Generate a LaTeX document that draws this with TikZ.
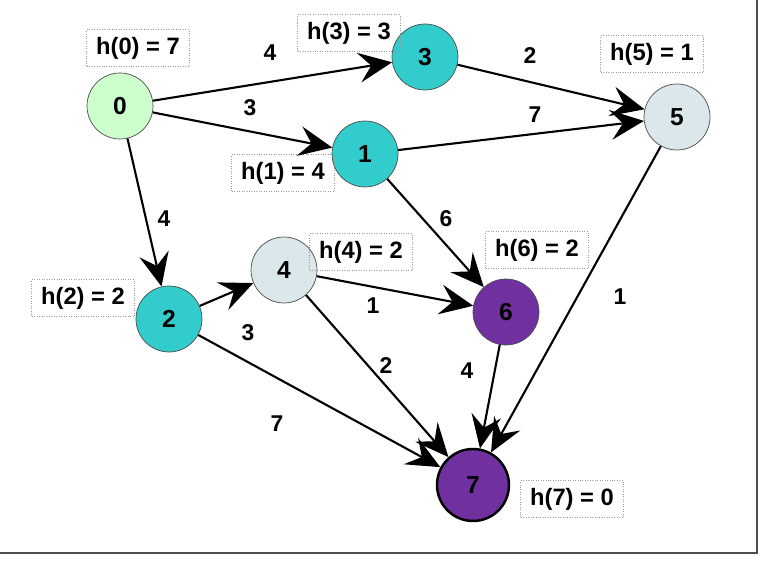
\documentclass[tikz,border=0pt]{standalone}
\usepackage{fontspec}
\setmainfont{Liberation Sans}
\usetikzlibrary{arrows.meta, positioning}
\definecolor{teal1}{RGB}{51,204,204}
\definecolor{mint}{RGB}{204,255,204}
\definecolor{pale}{RGB}{218,232,236}
\definecolor{plum}{RGB}{112,48,160}
\tikzstyle{arrow} = [line width=1.2pt,-{Stealth[length=19pt,width=17pt,inset=7pt]}]
\tikzstyle{state} = [circle, draw=black!70, minimum size=1.32cm, inner sep=0pt, font=\bfseries\fontsize{14}{16}\selectfont]
\tikzstyle{heur} = [rectangle, draw=black!40, densely dotted, minimum width=2.05cm, minimum height=0.74cm, font=\bfseries\fontsize{13.5}{15}\selectfont]
\tikzstyle{cost} = [font=\bfseries\fontsize{13}{15}\selectfont]

\begin{document}
\begin{tikzpicture}[x=0.02cm, y=-0.02cm]
\useasboundingbox (0,0) rectangle (768,563);
\draw [black!70, line width=1.2pt] (757,0) -- (757,553) -- (0,553);
%----------------------------------------------------------------------------
% Placement of graph nodes
\node (n0) [state, fill=mint] at (120,106) {0};
\node (n1) [state, fill=teal1] at (365,154) {1};
\node (n2) [state, fill=teal1] at (169,319) {2};
\node (n3) [state, fill=teal1] at (425,57) {3};
\node (n4) [state, fill=pale] at (284,270) {4};
\node (n5) [state, fill=pale] at (677,117) {5};
\node (n6) [state, fill=plum] at (506,312) {6};
\node (n7) [state, fill=plum, draw=black, line width=1.4pt, minimum size=1.44cm] at (473,485) {7};

%----------------------------------------------------------------------------
% Heuristic values
\node (h0) [heur] at (138,48) {h(0) = 7};
\node (h1) [heur] at (283,173) {h(1) = 4};
\node (h2) [heur] at (83,298) {h(2) = 2};
\node (h3) [heur] at (349,33) {h(3) = 3};
\node (h4) [heur] at (361,252) {h(4) = 2};
\node (h5) [heur] at (652,54) {h(5) = 1};
\node (h6) [heur] at (537,250) {h(6) = 2};
\node (h7) [heur] at (572,499) {h(7) = 0};

%----------------------------------------------------------------------------
% Lines
\draw [arrow] (n0) -- (n3);
\draw [arrow] (n3) -- (n5);
\draw [arrow] (n0) -- (n1);
\draw [arrow] (n1) -- (n5);
\draw [arrow] (n0) -- (n2);
\draw [arrow] (n1) -- (n6);
\draw [arrow] (n2) -- (n4);
\draw [arrow] (n4) -- (n6);
\draw [arrow] (n4) -- (n7);
\draw [arrow] (n6) -- (n7);
\draw [arrow] (n2) -- (n7);
\draw [arrow] (n5) -- (n7);

%----------------------------------------------------------------------------
% Costs
\node (c03) [cost] at (270,53) {4};
\node (c35) [cost] at (530,56) {2};
\node (c01) [cost] at (250,108) {3};
\node (c15) [cost] at (535,115) {7};
\node (c02) [cost] at (164,219) {4};
\node (c16) [cost] at (446,219) {6};
\node (c24) [cost] at (248,333) {3};
\node (c46) [cost] at (373,306) {1};
\node (c47) [cost] at (386,366) {2};
\node (c67) [cost] at (467,371) {4};
\node (c27) [cost] at (277,424) {7};
\node (c57) [cost] at (620,297) {1};
\end{tikzpicture}
\end{document}
